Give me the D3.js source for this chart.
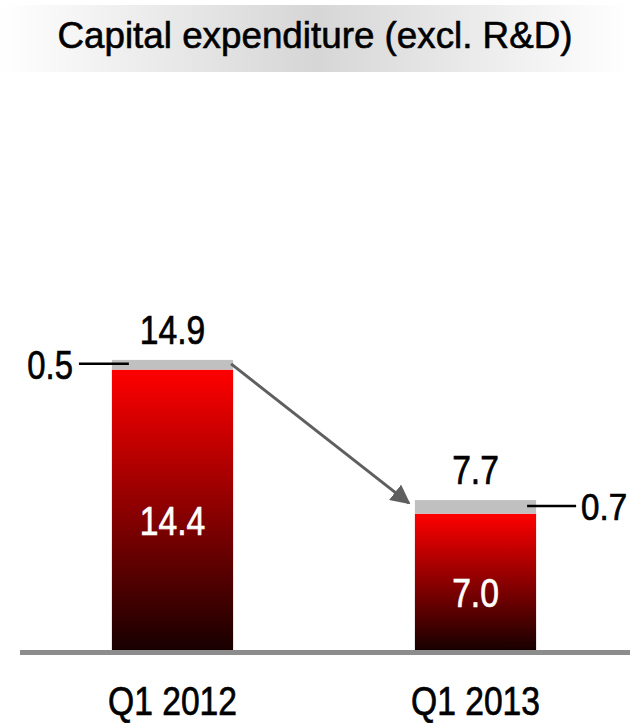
<!DOCTYPE html>
<html>
<head>
<meta charset="utf-8">
<script src="https://cdn.jsdelivr.net/npm/d3@7"></script>
<style>
  body { margin: 0; background: #fff; }
  svg text { font-family: "Liberation Sans", Arial, sans-serif; }
</style>
</head>
<body>
<div id="chart"></div>
<script>
// data
var categories = ["Q1 2012", "Q1 2013"];
var mainValues = [14.4, 7.0];
var otherValues = [0.5, 0.7];
var totals = [14.9, 7.7];
var titleText = "Capital expenditure (excl. R&D)";

var width = 630, height = 723;
var baseY = 650;

// squeeze text so it looks like a narrow face, a thin stroke thickens it a bit
function condense(sel, ratio) {
  sel.each(function () {
    var w = this.getComputedTextLength();
    var t = d3.select(this);
    t.attr("textLength", w * ratio)
      .attr("lengthAdjust", "spacingAndGlyphs")
      .attr("stroke", t.attr("fill") || "#000")
      .attr("stroke-width", 0.7);
  });
}

var svg = d3.select("#chart").append("svg")
  .attr("width", width)
  .attr("height", height);

var defs = svg.append("defs");

// title banner gradient
var bg = defs.append("linearGradient").attr("id", "banner")
  .attr("x1", "0%").attr("x2", "100%").attr("y1", "0%").attr("y2", "0%");
bg.append("stop").attr("offset", "0%").attr("stop-color", "#ffffff");
bg.append("stop").attr("offset", "50%").attr("stop-color", "#d6d6d6");
bg.append("stop").attr("offset", "100%").attr("stop-color", "#ffffff");

// bar gradient, red to near black
var rg = defs.append("linearGradient").attr("id", "redfade")
  .attr("x1", "0%").attr("x2", "0%").attr("y1", "0%").attr("y2", "100%");
rg.append("stop").attr("offset", "0%").attr("stop-color", "#ff0000");
rg.append("stop").attr("offset", "100%").attr("stop-color", "#180000");

defs.append("marker")
  .attr("id", "arrowhead")
  .attr("viewBox", "0 0 10 10")
  .attr("refX", 9).attr("refY", 5)
  .attr("markerWidth", 6.5).attr("markerHeight", 6.5)
  .attr("markerUnits", "strokeWidth")
  .attr("orient", "auto")
  .append("path")
  .attr("d", "M0,0L10,5L0,10Z")
  .attr("fill", "#5f5f5f");

// title
svg.append("rect")
  .attr("x", 0).attr("y", 5)
  .attr("width", width).attr("height", 67)
  .attr("fill", "url(#banner)");

svg.append("text")
  .attr("x", 315).attr("y", 48)
  .attr("text-anchor", "middle")
  .attr("textLength", 515)
  .attr("lengthAdjust", "spacingAndGlyphs")
  .attr("stroke", "#000")
  .attr("stroke-width", 0.6)
  .style("font-size", "36px")
  .text(titleText);

// scales
var x = d3.scaleBand()
  .domain(categories)
  .range([21, 627])
  .paddingInner(0.6)
  .paddingOuter(0.3);

var y = d3.scaleLinear()
  .domain([0, 15])
  .range([baseY, baseY - 15 * 19.47]);

var bars = svg.selectAll(".bar")
  .data(categories)
  .enter().append("g")
  .attr("class", "bar");

// main red part
bars.append("rect")
  .attr("x", function (d) { return x(d); })
  .attr("width", x.bandwidth())
  .attr("y", function (d, i) { return y(mainValues[i]); })
  .attr("height", function (d, i) { return y(0) - y(mainValues[i]); })
  .attr("fill", "url(#redfade)");

// grey part on top
bars.append("rect")
  .attr("x", function (d) { return x(d); })
  .attr("width", x.bandwidth())
  .attr("y", function (d, i) { return y(totals[i]); })
  .attr("height", function (d, i) { return y(mainValues[i]) - y(totals[i]); })
  .attr("fill", "#c0c0c0");

// value inside bar
bars.append("text")
  .attr("x", function (d) { return x(d) + x.bandwidth() / 2; })
  .attr("y", function (d, i) { return (y(mainValues[i]) + y(0)) / 2 + 25; })
  .attr("text-anchor", "middle")
  .attr("fill", "#fff")
  .style("font-size", "40px")
  .text(function (d, i) { return mainValues[i].toFixed(1); })
  .call(condense, 0.84);

// total on top
bars.append("text")
  .attr("x", function (d) { return x(d) + x.bandwidth() / 2; })
  .attr("y", function (d, i) { return y(totals[i]) - 16; })
  .attr("text-anchor", "middle")
  .attr("fill", "#000")
  .style("font-size", "40px")
  .text(function (d, i) { return totals[i].toFixed(1); })
  .call(condense, 0.84);

// callouts for the grey part
bars.each(function (d, i) {
  var g = d3.select(this);
  var cy = (y(totals[i]) + y(mainValues[i])) / 2;
  var left = i === 0;
  var x0 = left ? x(d) + 17 : x(d) + x.bandwidth() - 9;
  var x1 = left ? x(d) - 33 : x(d) + x.bandwidth() + 40;
  g.append("line")
    .attr("x1", x0).attr("x2", x1)
    .attr("y1", cy - 1).attr("y2", cy - 1)
    .attr("stroke", "#000")
    .attr("stroke-width", 2.5);
  // right label sits at the page edge, so a smaller size with less squeeze
  g.append("text")
    .attr("x", left ? x1 - 6 : x1 + 5)
    .attr("y", cy + (left ? 14 : 13))
    .attr("text-anchor", left ? "end" : "start")
    .attr("fill", "#000")
    .style("font-size", left ? "40px" : "36px")
    .text(otherValues[i].toFixed(1))
    .call(condense, left ? 0.82 : 0.92);
});

// arrow between the bars
svg.append("line")
  .attr("x1", x(categories[0]) + x.bandwidth() - 2)
  .attr("y1", y(totals[0]) + 4)
  .attr("x2", x(categories[1]) - 6)
  .attr("y2", y(totals[1]) + 3)
  .attr("stroke", "#5f5f5f")
  .attr("stroke-width", 3)
  .attr("marker-end", "url(#arrowhead)");

// baseline
svg.append("rect")
  .attr("x", 20).attr("y", baseY)
  .attr("width", width - 20).attr("height", 5)
  .attr("fill", "#8c8c8c");

// category labels
svg.selectAll(".cat")
  .data(categories)
  .enter().append("text")
  .attr("class", "cat")
  .attr("x", function (d) { return x(d) + x.bandwidth() / 2; })
  .attr("y", 715)
  .attr("text-anchor", "middle")
  .attr("fill", "#000")
  .style("font-size", "40px")
  .text(function (d) { return d; })
  .call(condense, 0.84);
</script>
</body>
</html>
